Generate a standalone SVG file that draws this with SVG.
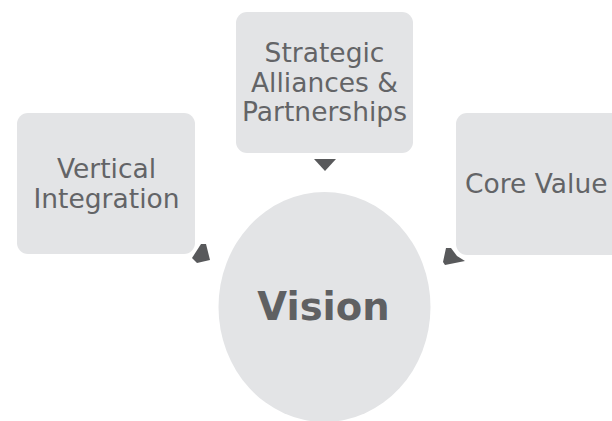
<svg xmlns="http://www.w3.org/2000/svg" width="612" height="421" viewBox="0 0 612 421">
  <style>
    .box { fill: #e3e4e6; }
    .lbl { font-family: "DejaVu Sans", Verdana, sans-serif; font-size: 26.5px; fill: #636467; text-anchor: middle; }
    .hub { font-family: "DejaVu Sans", Verdana, sans-serif; font-size: 38.5px; font-weight: bold; fill: #5f6062; text-anchor: middle; }
    .head { fill: #58595b; }
  </style>
  <rect width="612" height="421" fill="#ffffff"/>

  <g id="vertical-integration">
    <rect class="box" x="17" y="113" width="178" height="141" rx="11"/>
    <text class="lbl" x="106.5" y="178">Vertical</text>
    <text class="lbl" x="106.5" y="208">Integration</text>
  </g>

  <g id="strategic-alliances">
    <rect class="box" x="236" y="12" width="177" height="141" rx="11"/>
    <text class="lbl" x="324.5" y="62">Strategic</text>
    <text class="lbl" x="324.5" y="92">Alliances &amp;</text>
    <text class="lbl" x="324.5" y="121">Partnerships</text>
  </g>

  <g id="core-values">
    <rect class="box" x="456" y="113" width="178" height="142" rx="11"/>
    <text class="lbl" x="465" y="193" style="text-anchor:start">Core Value</text>
  </g>

  <g id="vision">
    <ellipse class="box" cx="324.5" cy="307" rx="106" ry="115"/>
    <text class="hub" x="323.5" y="320">Vision</text>
  </g>

  <g id="connectors">
    <polygon class="head" points="314,159 336,159 325,171"/>
    <polygon class="head" points="201,244 206,244 210,260 197,263 192,258"/>
    <polygon class="head" points="446,248 451,248 457,256 465,261 445,265 443,262"/>
  </g>
</svg>
